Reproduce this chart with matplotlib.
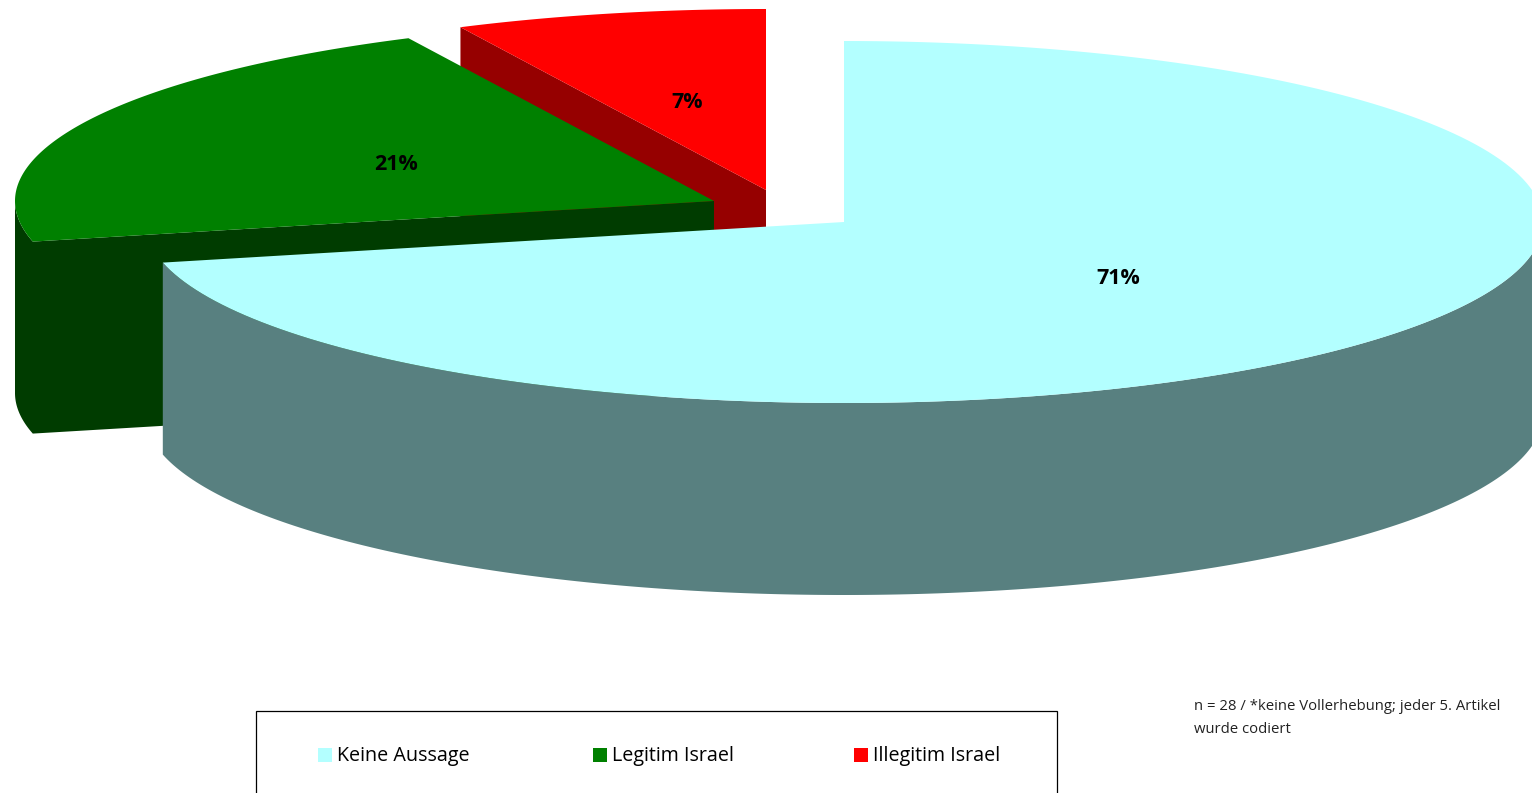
"""Exploded 3D style pie chart with a legend box and a note."""
import numpy as np
from matplotlib import pyplot as plt
from matplotlib.patches import Polygon, Rectangle

plt.rcParams['font.family'] = ['Open Sans', 'DejaVu Sans']

labels = ['Keine Aussage', 'Legitim Israel', 'Illegitim Israel']
shares = [71.4, 21.4, 7.2]
pct_labels = ['71%', '21%', '7%']
note = 'n = 28 / *keine Vollerhebung; jeder 5. Artikel\nwurde codiert'

top_colors = ['#B3FFFF', '#008000', '#FF0000']
side_colors = ['#588080', '#003C00', '#960000']
# pie position in pixels
offsets = [(844, 222), (714, 201), (766, 190)]
pct_pos = [(1118, 279), (396, 164), (687, 103)]
legend_x = [318, 593, 854]

RX, RY, DEPTH = 699, 181, 192


def rim(center, t0, t1, n=200):
    """Points on the pie ellipse, angles clockwise from 12 o'clock."""
    t = np.radians(np.linspace(t0, t1, n))
    return np.column_stack([center[0] + RX * np.sin(t),
                            center[1] - RY * np.cos(t)])


def drop(points):
    return points + [0, DEPTH]


fig = plt.figure(figsize=(15.32, 7.93), dpi=100)
ax = fig.add_axes([0, 0, 1, 1])
ax.set_xlim(0, 1532)
ax.set_ylim(793, 0)
ax.axis('off')

edges = np.cumsum([0] + shares) / sum(shares) * 360

# back to front: red, green, cyan
for i in [2, 1, 0]:
    c = np.array(offsets[i], dtype=float)
    t0, t1 = edges[i], edges[i + 1]
    arc = rim(c, t0, t1)
    a0, a1 = max(t0, 90), min(t1, 270)

    # cut face plus outer wall, only the front half of the wall can be seen
    if a0 < a1:
        wall = rim(c, a0, a1)
    if a0 < a1 and a0 == t0:
        path = np.vstack([c, wall, drop(wall)[::-1], drop(c[None])])
        sides = [path]
    elif a0 < a1:
        first = np.array([c, arc[0]])
        sides = [np.vstack([first, drop(first)[::-1]]),
                 np.vstack([wall, drop(wall)[::-1]])]
    else:
        first = np.array([c, arc[0]])
        sides = [np.vstack([first, drop(first)[::-1]])]
    for side in sides:
        ax.add_patch(Polygon(side, fc=side_colors[i], ec='none',
                             zorder=i * -3 + 10))

    ax.add_patch(Polygon(np.vstack([c, arc]), fc=top_colors[i], ec='none',
                         zorder=i * -3 + 11))
    ax.text(*pct_pos[i], pct_labels[i], fontsize=15.5, fontweight='bold',
            color='black', ha='center', va='center', zorder=20)

# legend box runs off the bottom of the picture
ax.add_patch(Rectangle((256, 711), 800.5, 100, fc='white', ec='black', lw=0.9,
                       zorder=15))
for x, label, color in zip(legend_x, labels, top_colors):
    ax.add_patch(Rectangle((x, 748), 14, 14, fc=color, ec='none', zorder=16))
    ax.text(x + 19, 756, label, fontsize=14.2, va='center', ha='left', zorder=16)

ax.text(1194, 718, note, fontsize=10.7, va='center', ha='left', linespacing=1.65,
        color='#222222', zorder=16)

fig.savefig('out.png', dpi=100)
